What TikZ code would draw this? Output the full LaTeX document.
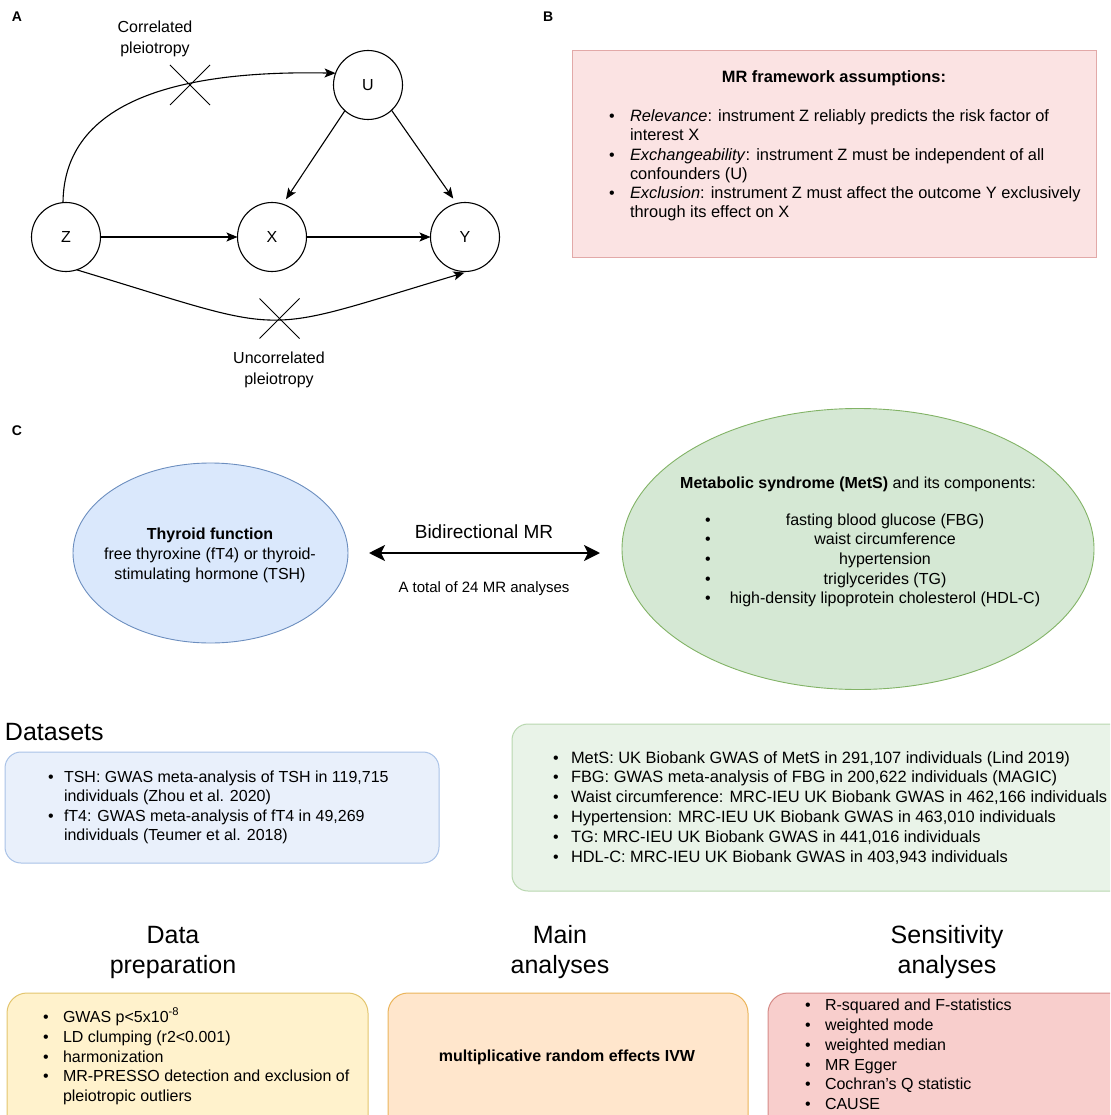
\documentclass[tikz,border=0pt]{standalone}
\usepackage{fontspec}
\setmainfont{Liberation Sans}
\usetikzlibrary{arrows.meta,shapes.geometric}
\definecolor{pinkfill}{HTML}{FBE3E3}
\definecolor{pinkline}{HTML}{E2A9A8}
\definecolor{bluefill}{HTML}{DAE8FC}
\definecolor{blueline}{HTML}{6C8EBF}
\definecolor{greenfill}{HTML}{D5E8D4}
\definecolor{greenline}{HTML}{82B366}
\definecolor{lbluefill}{HTML}{E9F0FB}
\definecolor{lblueline}{HTML}{A9C2E7}
\definecolor{lgreenfill}{HTML}{E9F3E8}
\definecolor{lgreenline}{HTML}{B8D7AF}
\definecolor{yelfill}{HTML}{FFF2CC}
\definecolor{yelline}{HTML}{E3C56E}
\definecolor{orafill}{HTML}{FFE6CC}
\definecolor{oraline}{HTML}{EBB45A}
\definecolor{redfill}{HTML}{F8CECC}
\definecolor{redline}{HTML}{D58A87}
\tikzset{
  every node/.style={inner sep=0pt, outer sep=0pt},
  t16/.style={font=\fontsize{16}{19}\selectfont},
  tl/.style={t16, anchor=base west},
  tc/.style={t16, anchor=base},
  bt/.style={font=\fontsize{16.4}{19.5}\selectfont, anchor=base west},
  gl/.style={font=\fontsize{16.4}{19.5}\selectfont, anchor=base west},
  hd/.style={font=\fontsize{25}{30}\selectfont, anchor=base},
  lab/.style={font=\fontsize{14}{17}\selectfont\bfseries, anchor=base west},
  var/.style={circle, draw, line width=1.1pt, minimum size=69pt, t16},
  ar/.style={-{Stealth[length=11pt,width=9pt,inset=2.5pt]}, line width=1.1pt},
  xmark/.style={line width=0.9pt},
  rbox/.style={rectangle, rounded corners=16pt, line width=1pt, anchor=north west},
}
\begin{document}
\begin{tikzpicture}[x=1pt,y=-1pt]
\useasboundingbox (0,0) rectangle (1110,1115);
\clip (0,0) rectangle (1110,1115);

% ---------------- Panel A ----------------
\node[lab] (LA) at (12,22) {A};
\node[var] (U) at (368,85) {U};
\node[var] (Z) at (66,237) {Z};
\node[var] (X) at (272,237) {X};
\node[var] (Y) at (465,237) {Y};
\draw[ar] (Z) -- (X);
\draw[ar] (X) -- (Y);
\draw[ar, shorten >=6pt] (U.228) -- (X.72);
\draw[ar, shorten >=6pt] (U.-47) -- (Y.104);
\draw[ar] (Z.95) .. controls (64,100) and (180,70) .. (U.160);
\draw[ar, shorten >=5pt] (Z.-72) .. controls (296,336) and (252,336) .. (Y.-83);
\coordinate (c1) at (190,85);
\coordinate (c2) at (279.5,318.5);
\draw[xmark] (c1) ++(-20,-20) -- ++(40,40);
\draw[xmark] (c1) ++(-20,20) -- ++(40,-40);
\draw[xmark] (c2) ++(-20,-20) -- ++(40,40);
\draw[xmark] (c2) ++(-20,20) -- ++(40,-40);
\node[tc] (cl1) at (155,33) {Correlated};
\node[tc] (cl2) at (155,54) {pleiotropy};
\node[tc] (ul1) at (279,363) {Uncorrelated};
\node[tc] (ul2) at (279,384) {pleiotropy};

% ---------------- Panel B ----------------
\node[lab] (LB) at (543,22) {B};
\node[rectangle, draw=pinkline, fill=pinkfill, line width=1pt, minimum width=524pt, minimum height=206pt, anchor=north west] (Bbox) at (572,51) {};
\node[tc, font=\fontsize{16.4}{19.5}\selectfont\bfseries] (Bt) at (834,83) {MR framework assumptions:};
\node[tc] (bb1) at (612,122) {•};
\node[bt] (bl1) at (630,122) {\textit{Relevance}: instrument Z reliably predicts the risk factor of};
\node[bt] (bl2) at (630,141) {interest X};
\node[tc] (bb2) at (612,160.5) {•};
\node[bt] (bl3) at (630,160.5) {\textit{Exchangeability}: instrument Z must be independent of all};
\node[bt] (bl4) at (630,180) {confounders (U)};
\node[tc] (bb3) at (612,199) {•};
\node[bt] (bl5) at (630,199) {\textit{Exclusion}: instrument Z must affect the outcome Y exclusively};
\node[bt] (bl6) at (630,218) {through its effect on X};

% ---------------- Panel C ----------------
\node[lab] (LC) at (12,435) {C};
\node[ellipse, draw=blueline, fill=bluefill, line width=0.9pt, minimum width=275pt, minimum height=180pt] (TF) at (210.5,553) {};
\node[tc, font=\fontsize{16}{19}\selectfont\bfseries] (tf1) at (210,539) {Thyroid function};
\node[tc] (tf2) at (210,559) {free thyroxine (fT4) or thyroid-};
\node[tc] (tf3) at (210,579) {stimulating hormone (TSH)};

\node[ellipse, draw=greenline, fill=greenfill, line width=0.9pt, minimum width=472pt, minimum height=281pt] (MS) at (858,549) {};
\node[tc] (ms0) at (858,488) {\textbf{Metabolic syndrome (MetS)} and its components:};
\node[tc] (msb1) at (708,525) {•};
\node[tc] (ms1) at (885,525) {fasting blood glucose (FBG)};
\node[tc] (msb2) at (708,544.7) {•};
\node[tc] (ms2) at (885,544.7) {waist circumference};
\node[tc] (msb3) at (708,564.4) {•};
\node[tc] (ms3) at (885,564.4) {hypertension};
\node[tc] (msb4) at (708,584.1) {•};
\node[tc] (ms4) at (885,584.1) {triglycerides (TG)};
\node[tc] (msb5) at (708,603.8) {•};
\node[tc] (ms5) at (885,603.8) {high-density lipoprotein cholesterol (HDL-C)};

\draw[{Stealth[length=16pt,width=16pt,inset=4pt]}-{Stealth[length=16pt,width=16pt,inset=4pt]}, line width=2.6pt]
  ([xshift=21pt]TF.east) -- ([xshift=-22pt]TF.east -| MS.west);
\node[tc, font=\fontsize{19}{23}\selectfont] (bid) at (484,538) {Bidirectional MR};
\node[tc, font=\fontsize{15}{18}\selectfont] (tot) at (484,592) {A total of 24 MR analyses};

% ---------------- Datasets ----------------
\node[hd, anchor=base west] (DS) at (5,740) {Datasets};
\node[rbox, draw=lblueline, fill=lbluefill, minimum width=434pt, minimum height=111pt] (DB) at (5,752) {};
\node[tc] (db1) at (51,782) {•};
\node[tl] (dt1) at (64,782) {TSH: GWAS meta-analysis of TSH in 119,715};
\node[tl] (dt2) at (64,801) {individuals (Zhou et al. 2020)};
\node[tc] (db2) at (51,821) {•};
\node[tl] (dt3) at (64,821) {fT4: GWAS meta-analysis of fT4 in 49,269};
\node[tl] (dt4) at (64,840) {individuals (Teumer et al. 2018)};

\node[rbox, draw=lgreenline, fill=lgreenfill, minimum width=640pt, minimum height=167pt] (DG) at (512,724) {};
\node[tc] (gb1) at (556,763) {•};
\node[gl] (gt1) at (571,763) {MetS: UK Biobank GWAS of MetS in 291,107 individuals (Lind 2019)};
\node[tc] (gb2) at (556,782.8) {•};
\node[gl] (gt2) at (571,782.8) {FBG: GWAS meta-analysis of FBG in 200,622 individuals (MAGIC)};
\node[tc] (gb3) at (556,802.6) {•};
\node[gl] (gt3) at (571,802.6) {Waist circumference: MRC-IEU UK Biobank GWAS in 462,166 individuals};
\node[tc] (gb4) at (556,822.4) {•};
\node[gl] (gt4) at (571,822.4) {Hypertension: MRC-IEU UK Biobank GWAS in 463,010 individuals};
\node[tc] (gb5) at (556,842.2) {•};
\node[gl] (gt5) at (571,842.2) {TG: MRC-IEU UK Biobank GWAS in 441,016 individuals};
\node[tc] (gb6) at (556,862) {•};
\node[gl] (gt6) at (571,862) {HDL-C: MRC-IEU UK Biobank GWAS in 403,943 individuals};

% ---------------- Bottom ----------------
\node[hd] (h1a) at (173,943) {Data};
\node[hd] (h1b) at (173,973) {preparation};
\node[hd] (h2a) at (560,943) {Main};
\node[hd] (h2b) at (560,973) {analyses};
\node[hd] (h3a) at (947,943) {Sensitivity};
\node[hd] (h3b) at (947,973) {analyses};

\node[rbox, rounded corners=20pt, draw=yelline, fill=yelfill, minimum width=361pt, minimum height=170pt] (YB) at (7,993) {};
\node[tc] (yb1) at (46,1022) {•};
\node[tl] (yt1) at (63,1022) {GWAS p<5x10\textsuperscript{-8}};
\node[tc] (yb2) at (46,1042) {•};
\node[tl] (yt2) at (63,1042) {LD clumping (r2<0.001)};
\node[tc] (yb3) at (46,1062) {•};
\node[tl] (yt3) at (63,1062) {harmonization};
\node[tc] (yb4) at (46,1081) {•};
\node[tl] (yt4) at (63,1081) {MR-PRESSO detection and exclusion of};
\node[tl] (yt5) at (63,1101) {pleiotropic outliers};

\node[rbox, rounded corners=20pt, draw=oraline, fill=orafill, minimum width=360pt, minimum height=170pt] (OB) at (388,993) {};
\node[tc, font=\fontsize{16}{19}\selectfont\bfseries] (ot1) at (567,1061) {multiplicative random effects IVW};

\node[rbox, rounded corners=20pt, draw=redline, fill=redfill, minimum width=380pt, minimum height=170pt] (RB) at (768,993) {};
\node[tc] (rb1) at (808,1010) {•};
\node[tl] (rt1) at (825,1010) {R-squared and F-statistics};
\node[tc] (rb2) at (808,1030) {•};
\node[tl] (rt2) at (825,1030) {weighted mode};
\node[tc] (rb3) at (808,1050) {•};
\node[tl] (rt3) at (825,1050) {weighted median};
\node[tc] (rb4) at (808,1070) {•};
\node[tl] (rt4) at (825,1070) {MR Egger};
\node[tc] (rb5) at (808,1089) {•};
\node[tl] (rt5) at (825,1089) {Cochran's Q statistic};
\node[tc] (rb6) at (808,1109) {•};
\node[tl] (rt6) at (825,1109) {CAUSE};
\end{tikzpicture}
\end{document}
